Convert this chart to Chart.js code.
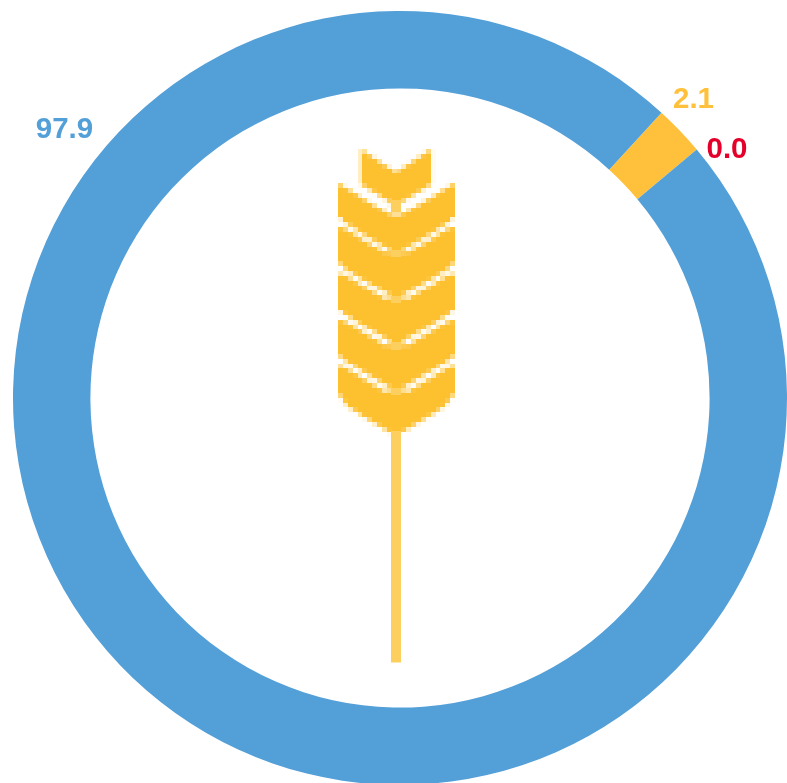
<!DOCTYPE html>
<html><head><meta charset="utf-8">
<script src="https://cdn.jsdelivr.net/npm/chart.js@4"></script>
<style>html,body{margin:0;padding:0;background:#fff;overflow:hidden;width:787px;height:783px}
#wrap{position:absolute;left:0;top:0;width:787px;height:783px;overflow:hidden}
canvas{display:block;position:absolute;left:0;top:0}</style></head>
<body><div id="wrap"><canvas id="c" width="800" height="800" style="width:800px;height:800px"></canvas></div>
<script>
const categories = ['Yellow share', 'Red share', 'Blue share'];
const values = [2.1, 0.0, 97.9];
const valueLabels = ['2.1', '0.0', '97.9'];
const colors = ['#FFC13B', '#E4002B', '#539FD8'];
const labelPos = [[693.5, 100], [727, 150], [64.5, 130]];

function drawWheat(ctx) {
  const s = 4.875, ox = 338, oy = 149;
  const W = 24, H = 60;
  const off = document.createElement('canvas');
  off.width = W; off.height = H;
  const g = off.getContext('2d');
  const X = x => (x - ox) / s, Y = y => (y - oy) / s;
  const poly = pts => { g.beginPath(); pts.forEach((p, i) => i ? g.lineTo(X(p[0]), Y(p[1])) : g.moveTo(X(p[0]), Y(p[1]))); g.closePath(); g.fill(); };
  g.fillStyle = '#FDC02F';
  // top kernel
  poly([[361,149],[396,172],[431,149],[431,184],[401,203],[401,208],[391,208],[391,203],[361,184]]);
  // body of the ear
  poly([[338,183],[391,215],[401,215],[455,183],[455,393],[444,407],[401,433],[391,433],[348,407],[338,393]]);
  // white gaps between kernel pairs
  g.strokeStyle = '#fff'; g.lineWidth = 1.1; g.fillStyle = '#fff';
  [222, 268, 314, 360].forEach(t => {
    g.beginPath(); g.moveTo(X(338), Y(t)); g.lineTo(X(389), Y(t+30)); g.stroke();
    g.beginPath(); g.moveTo(X(455), Y(t)); g.lineTo(X(404), Y(t+30)); g.stroke();
    poly([[337,t-8],[345,t+3],[337,t+7]]);
    poly([[456,t-8],[448,t+3],[456,t+7]]);
  });
  ctx.save();
  ctx.imageSmoothingEnabled = false;
  ctx.drawImage(off, ox, oy, W * s, H * s);
  ctx.fillStyle = '#FDCF5E';
  ctx.fillRect(391, 431, 10, 231.5);
  [[200,12],[250,7],[296,7],[342,8],[388,7]].forEach(p => ctx.fillRect(391, p[0], 10, p[1]));
  ctx.restore();
}

const extras = {
  id: 'extras',
  afterDraw(chart) {
    const ctx = chart.ctx;
    drawWheat(ctx);
    ctx.save();
    ctx.font = 'bold 29.5px "Liberation Sans", Arial, sans-serif';
    ctx.textAlign = 'center'; ctx.textBaseline = 'middle';
    valueLabels.forEach((t, i) => {
      ctx.fillStyle = colors[i];
      ctx.fillText(t, labelPos[i][0], labelPos[i][1]);
    });
    ctx.restore();
  }
};

new Chart(document.getElementById('c'), {
  type: 'doughnut',
  data: { labels: categories, datasets: [{ data: values, backgroundColor: colors, borderWidth: 0 }] },
  options: {
    responsive: false, animation: false, cutout: '80%', rotation: 42.5,
    layout: { padding: { left: 13, right: 13, top: 11, bottom: 15 } },
    plugins: { legend: { display: false }, tooltip: { enabled: false } }
  },
  plugins: [extras]
});
</script></body></html>
